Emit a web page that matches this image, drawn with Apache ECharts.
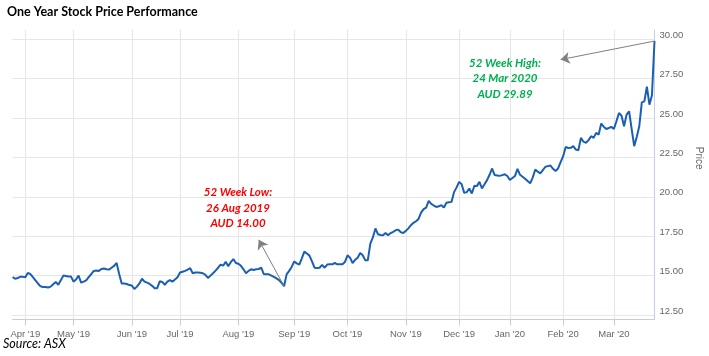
<!DOCTYPE html>
<html><head><meta charset="utf-8">
<script src="https://cdn.jsdelivr.net/npm/echarts@6/dist/echarts.min.js"></script>
<style>html,body{margin:0;padding:0;background:#fff}#c{width:709px;height:356px}</style>
</head><body><div id="c"></div>
<script>
// ---- data ----
const firstDay = '2019-03-25';
const lastDay = '2020-03-24';
const asxHolidays = ['2019-04-19','2019-04-22','2019-04-25','2019-06-10','2019-12-25','2019-12-26','2020-01-01','2020-01-27'];
const monthNames = ['Jan','Feb','Mar','Apr','May','Jun','Jul','Aug','Sep','Oct','Nov','Dec'];
const prices = [
14.9,14.8,14.85,14.92,14.92,14.9,15.17,15.1,14.9,14.7,
14.5,14.32,14.28,14.27,14.25,14.3,14.45,14.6,14.42,14.7,
15.0,14.98,14.95,14.95,14.62,14.75,15.0,14.55,14.62,14.7,
14.9,15.1,15.3,15.32,15.3,15.42,15.45,15.4,15.38,15.5,
15.62,15.8,15.1,14.5,14.5,14.47,14.4,14.37,14.15,14.3,
14.5,14.8,14.62,14.55,14.47,14.35,14.2,14.2,14.64,14.6,
14.42,14.62,14.72,14.62,14.75,14.9,15.2,15.25,15.3,15.38,
15.47,15.15,15.2,15.2,15.18,15.15,15.05,14.85,15.0,15.15,
15.32,15.5,15.7,15.63,15.88,15.6,15.85,16.05,15.8,15.75,
15.62,15.4,15.15,15.3,15.4,15.36,15.4,15.42,15.5,15.1,
15.08,15.08,15.0,14.92,14.82,14.72,14.55,14.33,15.08,15.3,
15.55,15.9,15.78,15.7,16.1,16.52,16.4,16.27,15.9,15.5,
15.48,15.5,15.68,15.5,15.7,15.72,15.72,15.8,15.72,15.72,
15.72,15.87,16.29,16.14,15.8,16.0,16.14,16.44,16.29,15.97,
15.97,17.03,17.42,17.99,17.63,17.58,17.56,17.71,17.56,17.7,
17.78,17.88,17.92,17.75,17.71,17.84,18.0,18.2,18.35,18.45,
18.6,19.0,19.22,19.32,19.75,19.55,19.45,19.36,19.4,19.47,
19.32,19.62,19.65,19.68,20.3,20.6,20.95,20.8,20.25,20.3,
20.53,20.21,20.7,20.68,20.95,20.53,20.8,21.06,21.4,21.8,
21.38,21.36,21.33,21.38,21.43,21.32,21.07,21.2,21.32,21.78,
21.4,21.28,21.15,21.0,20.86,21.22,21.74,21.6,21.49,21.7,
21.91,21.95,21.99,21.78,21.64,21.8,22.2,22.58,23.17,23.1,
23.11,23.22,23.0,22.96,23.74,23.5,23.43,23.6,23.85,23.74,
24.06,23.95,24.65,24.45,24.31,24.37,24.44,24.31,24.8,25.32,
25.15,24.48,25.22,25.43,24.3,23.22,23.8,24.48,26.0,26.06,
27.0,25.85,26.45,29.89
];
const yMin = 12.5, yMax = 30, yStep = 2.5;
const lowNote = ['52 Week Low:', '26 Aug 2019', 'AUD 14.00'];
const highNote = ['52 Week High:', '24 Mar 2020', 'AUD 29.89'];
const lowIdx = 107, lowArrowTip = [97, 17.27];
const highIdx = 253, highArrowTip = [216, 28.71];

// ---- trading-day categories ----
function tradingDays(){
  const out = [];
  const d = new Date(firstDay + 'T00:00:00Z');
  const end = new Date(lastDay + 'T00:00:00Z');
  while (d <= end) {
    const s = d.toISOString().slice(0,10);
    const wd = d.getUTCDay();
    if (wd !== 0 && wd !== 6 && asxHolidays.indexOf(s) < 0) out.push(s);
    d.setUTCDate(d.getUTCDate() + 1);
  }
  return out;
}
const dates = tradingDays();
const monthStart = (i) => i > 0 && dates[i].slice(5,7) !== dates[i-1].slice(5,7);
const fmtMonth = (v) => monthNames[+v.slice(5,7)-1] + " '" + v.slice(2,4);

const L = 12.6, R = 54.5;
const chart = echarts.init(document.getElementById('c'), null, {renderer:'canvas'});
const axisCol = '#c0d0e0', gridCol = '#e6e6e6', labCol = '#666666';

function noteLines(lines, cx, top, color){
  return lines.map((t, k) => ({
    type: 'text', x: cx, y: top + k * 15.3, z: 100,
    style: {text: t, font: 'italic bold 11.5px Lato', fill: color, align: 'center', verticalAlign: 'middle'}
  }));
}

chart.setOption({
  animation: false,
  backgroundColor: '#ffffff',
  title: {
    text: 'One Year Stock Price Performance', left: 7, top: 5, padding: 0,
    textStyle: {fontFamily: 'Lato', fontWeight: 'bold', fontSize: 12.5, color: '#000'}
  },
  grid: [
    {left: L, right: R, top: 30, bottom: 36.5, outerBoundsMode: 'none', containLabel: false},
    {left: L, right: R, top: 39.3, bottom: 41, outerBoundsMode: 'none', containLabel: false}
  ],
  xAxis: [
    {
      gridIndex: 0, type: 'category', data: dates, boundaryGap: false,
      axisLine: {show: true, lineStyle: {color: axisCol, width: 1}},
      axisTick: {show: true, interval: (i) => monthStart(i), length: 6, lineStyle: {color: axisCol}},
      axisLabel: {interval: (i) => monthStart(i), formatter: fmtMonth, color: labCol,
        fontFamily: 'Liberation Sans', fontSize: 9.5, margin: 10},
      splitLine: {show: true, interval: (i) => monthStart(i), lineStyle: {color: gridCol, width: 1}}
    },
    {
      gridIndex: 1, type: 'category', data: dates, boundaryGap: false, show: false
    }
  ],
  yAxis: [
    {
      gridIndex: 0, type: 'value', position: 'right', min: 0, max: 1,
      axisLine: {show: true, lineStyle: {color: axisCol, width: 1}},
      axisTick: {show: false}, axisLabel: {show: false}, splitLine: {show: false}
    },
    {
      gridIndex: 1, type: 'value', position: 'right', min: yMin, max: yMax, interval: yStep,
      axisLine: {show: false}, axisTick: {show: false},
      axisLabel: {formatter: (v) => v.toFixed(2), color: labCol, fontFamily: 'Liberation Sans',
        fontSize: 9.5, margin: 5, verticalAlign: 'bottom', lineHeight: 8},
      splitLine: {show: true, lineStyle: {color: gridCol, width: 1}},
      name: 'Price', nameLocation: 'middle', nameRotate: -90, nameGap: 31,
      nameTextStyle: {color: labCol, fontFamily: 'Liberation Sans', fontSize: 10, padding: [0, 38, 0, 0]}
    }
  ],
  series: [{
    type: 'line', xAxisIndex: 1, yAxisIndex: 1, data: prices,
    symbol: 'none', smooth: false,
    lineStyle: {color: '#1a5fb4', width: 2},
    markLine: {
      silent: true, symbol: ['none', 'arrow'], symbolSize: 9,
      lineStyle: {color: '#808080', width: 1, type: 'solid'},
      itemStyle: {color: '#808080'},
      label: {show: false},
      emphasis: {disabled: true},
      data: [
        [{coord: [lowIdx, prices[lowIdx]]}, {coord: lowArrowTip}],
        [{coord: [highIdx, prices[highIdx]]}, {coord: highArrowTip}]
      ]
    }
  }],
  graphic: [
    {type: 'text', left: 3, top: 337, style: {text: 'Source: ASX', font: 'italic 12.5px Lato', fill: '#000'}}
  ].concat(noteLines(lowNote, 238, 192.7, '#ff0000'))
   .concat(noteLines(highNote, 505, 63.3, '#00b050'))
});
</script>
</body></html>
